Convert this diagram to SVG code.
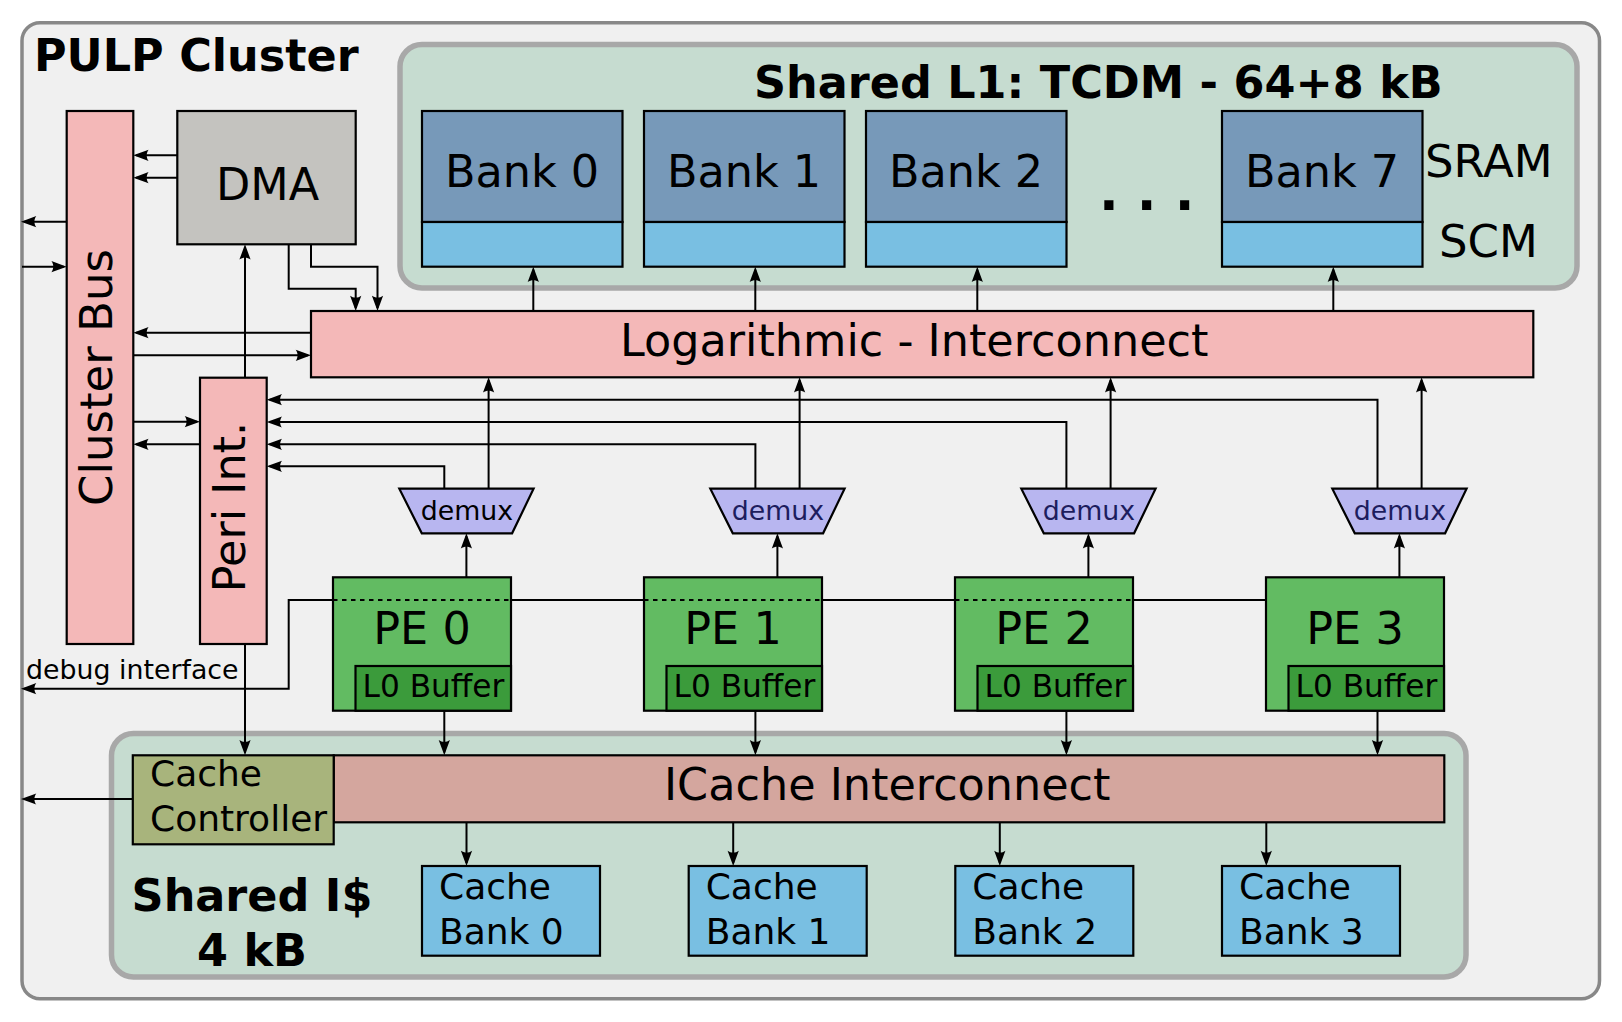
<svg xmlns="http://www.w3.org/2000/svg" width="1622" height="1022" viewBox="0 0 1622 1022">
<defs>
<style>
text{font-family:"DejaVu Sans","Liberation Sans",sans-serif;fill:#000}
.b{font-weight:bold}
.box{stroke:#000;stroke-width:2.2}
.pink{fill:#f4b8b8}
.wrap{fill:#c6dcd0;stroke:#a8a8a8;stroke-width:5.5}
.bankT{fill:#7799b9}
.blue{fill:#79bfe2}
.pe{fill:#62bb62}
.l0{fill:#3b9b3b}
.dmx{fill:#b8b6f0}
.c{fill:none;stroke:#000;stroke-width:2}
.a{marker-end:url(#ah)}
.dash{fill:none;stroke:#000;stroke-width:2;stroke-dasharray:4.5 4.5}
.t44{font-size:44.5px}
.t45{font-size:45px}
.t36{font-size:36px}
.t27{font-size:26.8px}
.t31{font-size:31.2px}
</style>
<marker id="ah" markerUnits="userSpaceOnUse" viewBox="-16 -6 20 12" markerWidth="20" markerHeight="12" refX="-3" refY="0" orient="auto">
<path d="M0,0 L-15.3,-5.6 C-12.8,-2.3 -12.8,2.3 -15.3,5.6 Z" fill="#000"/>
</marker>
</defs>

<g id="cluster">
<rect x="22" y="22.7" width="1577.5" height="976" rx="18" fill="#f0f0f0" stroke="#888" stroke-width="3.5"/>
<text class="b t44" x="34" y="70.7">PULP Cluster</text>
<text class="t27" x="26" y="679">debug interface</text>
</g>

<g id="l1">
<rect class="wrap" x="400" y="44.5" width="1177" height="243.5" rx="22"/>
<text class="b t44" x="754" y="98.3">Shared L1: TCDM - 64+8 kB</text>
<text class="t45" x="1425" y="177.3">SRAM</text>
<text class="t45" x="1439" y="256.7">SCM</text>
<text class="b" style="font-size:52px" x="1099" y="210">. . .</text>
</g>

<g id="bank0">
<rect class="box bankT" x="422" y="111" width="200.5" height="111"/>
<rect class="box blue" x="422" y="222" width="200.5" height="44.7"/>
<text class="t44" x="522" y="186.5" text-anchor="middle">Bank 0</text>
</g>
<g id="bank1">
<rect class="box bankT" x="644" y="111" width="200.5" height="111"/>
<rect class="box blue" x="644" y="222" width="200.5" height="44.7"/>
<text class="t44" x="744" y="186.5" text-anchor="middle">Bank 1</text>
</g>
<g id="bank2">
<rect class="box bankT" x="866" y="111" width="200.5" height="111"/>
<rect class="box blue" x="866" y="222" width="200.5" height="44.7"/>
<text class="t44" x="966" y="186.5" text-anchor="middle">Bank 2</text>
</g>
<g id="bank7">
<rect class="box bankT" x="1222" y="111" width="200.5" height="111"/>
<rect class="box blue" x="1222" y="222" width="200.5" height="44.7"/>
<text class="t44" x="1322" y="186.5" text-anchor="middle">Bank 7</text>
</g>

<g id="clusterbus">
<rect class="box pink" x="66.7" y="111" width="66.6" height="533"/>
<text class="t45" transform="translate(111.7,377.5) rotate(-90)" text-anchor="middle">Cluster Bus</text>
</g>

<g id="dma">
<rect class="box" fill="#c4c3bf" x="177.3" y="111" width="178.4" height="133.3"/>
<text class="t44" x="216" y="200">DMA</text>
</g>

<g id="logic">
<rect class="box pink" x="311" y="311" width="1222.3" height="66.3"/>
<text class="t44" x="620" y="355.7">Logarithmic - Interconnect</text>
</g>

<g id="peri">
<rect class="box pink" x="200" y="377.7" width="66.7" height="266.3"/>
<text class="t44" transform="translate(245,507) rotate(-90)" text-anchor="middle">Peri Int.</text>
</g>

<g id="demux0">
<polygon class="box dmx" points="399.3,488.7 533.6,488.7 512.1,533.3 421.8,533.3"/>
<text class="t27" x="467" y="519.5" text-anchor="middle">demux</text>
</g>
<g id="demux1">
<polygon class="box dmx" points="710.3,488.7 844.6,488.7 823.1,533.3 732.8,533.3"/>
<text class="t27" x="778" y="519.5" text-anchor="middle" style="fill:#1d1d5e">demux</text>
</g>
<g id="demux2">
<polygon class="box dmx" points="1021.3,488.7 1155.6,488.7 1134.1,533.3 1043.8,533.3"/>
<text class="t27" x="1089" y="519.5" text-anchor="middle" style="fill:#1d1d5e">demux</text>
</g>
<g id="demux3">
<polygon class="box dmx" points="1332.3,488.7 1466.6,488.7 1445.1,533.3 1354.8,533.3"/>
<text class="t27" x="1400" y="519.5" text-anchor="middle" style="fill:#1d1d5e">demux</text>
</g>

<g id="pe0">
<rect class="box pe" x="333" y="577.3" width="178" height="133.4"/>
<rect class="box l0" x="355.5" y="666" width="155.5" height="44.7"/>
<text class="t44" x="422" y="644" text-anchor="middle">PE 0</text>
<text class="t31" x="362.5" y="697.3">L0 Buffer</text>
</g>
<g id="pe1">
<rect class="box pe" x="644" y="577.3" width="178" height="133.4"/>
<rect class="box l0" x="666.5" y="666" width="155.5" height="44.7"/>
<text class="t44" x="733" y="644" text-anchor="middle">PE 1</text>
<text class="t31" x="673.5" y="697.3">L0 Buffer</text>
</g>
<g id="pe2">
<rect class="box pe" x="955" y="577.3" width="178" height="133.4"/>
<rect class="box l0" x="977.5" y="666" width="155.5" height="44.7"/>
<text class="t44" x="1044" y="644" text-anchor="middle">PE 2</text>
<text class="t31" x="984.5" y="697.3">L0 Buffer</text>
</g>
<g id="pe3">
<rect class="box pe" x="1266" y="577.3" width="178" height="133.4"/>
<rect class="box l0" x="1288.5" y="666" width="155.5" height="44.7"/>
<text class="t44" x="1355" y="644" text-anchor="middle">PE 3</text>
<text class="t31" x="1295.5" y="697.3">L0 Buffer</text>
</g>

<g id="icache">
<rect class="wrap" x="111.5" y="733.5" width="1354.5" height="243.5" rx="22"/>
<text class="b t44" x="252" y="910.7" text-anchor="middle">Shared I$</text>
<text class="b t44" x="252" y="965.7" text-anchor="middle">4 kB</text>
</g>
<g id="icache-ic">
<rect class="box" fill="#d4a69e" x="333.7" y="755.3" width="1110.6" height="67"/>
<text class="t44" x="664" y="800">ICache Interconnect</text>
</g>
<g id="cachectrl">
<rect class="box" fill="#a8b47c" x="132.8" y="755.3" width="200.9" height="89"/>
<text class="t36" x="150" y="786">Cache</text>
<text class="t36" x="150" y="830.7">Controller</text>
</g>
<g id="cbank0">
<rect class="box blue" x="422" y="866" width="178" height="89.7"/>
<text class="t36" x="439" y="899">Cache</text>
<text class="t36" x="439" y="944">Bank 0</text>
</g>
<g id="cbank1">
<rect class="box blue" x="688.7" y="866" width="178" height="89.7"/>
<text class="t36" x="705.7" y="899">Cache</text>
<text class="t36" x="705.7" y="944">Bank 1</text>
</g>
<g id="cbank2">
<rect class="box blue" x="955.3" y="866" width="178" height="89.7"/>
<text class="t36" x="972.3" y="899">Cache</text>
<text class="t36" x="972.3" y="944">Bank 2</text>
</g>
<g id="cbank3">
<rect class="box blue" x="1222" y="866" width="178" height="89.7"/>
<text class="t36" x="1239" y="899">Cache</text>
<text class="t36" x="1239" y="944">Bank 3</text>
</g>

<g id="connectors">
<path class="c a" d="M177.3 155.3 H136.3"/>
<path class="c a" d="M177.3 177.7 H136.3"/>
<path class="c a" d="M66.7 221.7 H24"/>
<path class="c a" d="M22 266.7 H63.7"/>
<path class="c a" d="M288.7 244.3 V288.7 H355.7 V308"/>
<path class="c a" d="M311 244.3 V266.7 H377.5 V308"/>
<path class="c a" d="M311 332.7 H136.3"/>
<path class="c a" d="M133.3 355.3 H308"/>
<path class="c a" d="M133.3 421.7 H197"/>
<path class="c a" d="M200 444.3 H136.3"/>
<path class="c a" d="M245 377.7 V247.3"/>
<path class="c a" d="M245 644 V752.3"/>
<path class="c a" d="M132.8 799 H24"/>
<path class="c a" d="M533.3 311 V269.7"/>
<path class="c a" d="M755.3 311 V269.7"/>
<path class="c a" d="M977.3 311 V269.7"/>
<path class="c a" d="M1333.3 311 V269.7"/>
<path class="c a" d="M444.3 488.7 V466.3 H269.7"/>
<path class="c a" d="M755.4 488.7 V444.3 H269.7"/>
<path class="c a" d="M1066.4 488.7 V422 H269.7"/>
<path class="c a" d="M1377.5 488.7 V399.7 H269.7"/>
<path class="c a" d="M488.6 488.7 V380.3"/>
<path class="c a" d="M799.6 488.7 V380.3"/>
<path class="c a" d="M1110.6 488.7 V380.3"/>
<path class="c a" d="M1421.6 488.7 V380.3"/>
<path class="c a" d="M466.4 577.3 V536.3"/>
<path class="c a" d="M777.4 577.3 V536.3"/>
<path class="c a" d="M1088.4 577.3 V536.3"/>
<path class="c a" d="M1399.4 577.3 V536.3"/>
<path class="c a" d="M333 600 H288.7 V688.7 H24"/>
<path class="c" d="M511 600 H644"/>
<path class="c" d="M822 600 H955"/>
<path class="c" d="M1133 600 H1266"/>
<path class="dash" d="M333 600 H511"/>
<path class="dash" d="M644 600 H822"/>
<path class="dash" d="M955 600 H1133"/>
<path class="c a" d="M444.3 710.7 V752.3"/>
<path class="c a" d="M755.4 710.7 V752.3"/>
<path class="c a" d="M1066.4 710.7 V752.3"/>
<path class="c a" d="M1377.5 710.7 V752.3"/>
<path class="c a" d="M466.5 822.3 V863"/>
<path class="c a" d="M733.2 822.3 V863"/>
<path class="c a" d="M999.8 822.3 V863"/>
<path class="c a" d="M1266.3 822.3 V863"/>
</g>
</svg>
